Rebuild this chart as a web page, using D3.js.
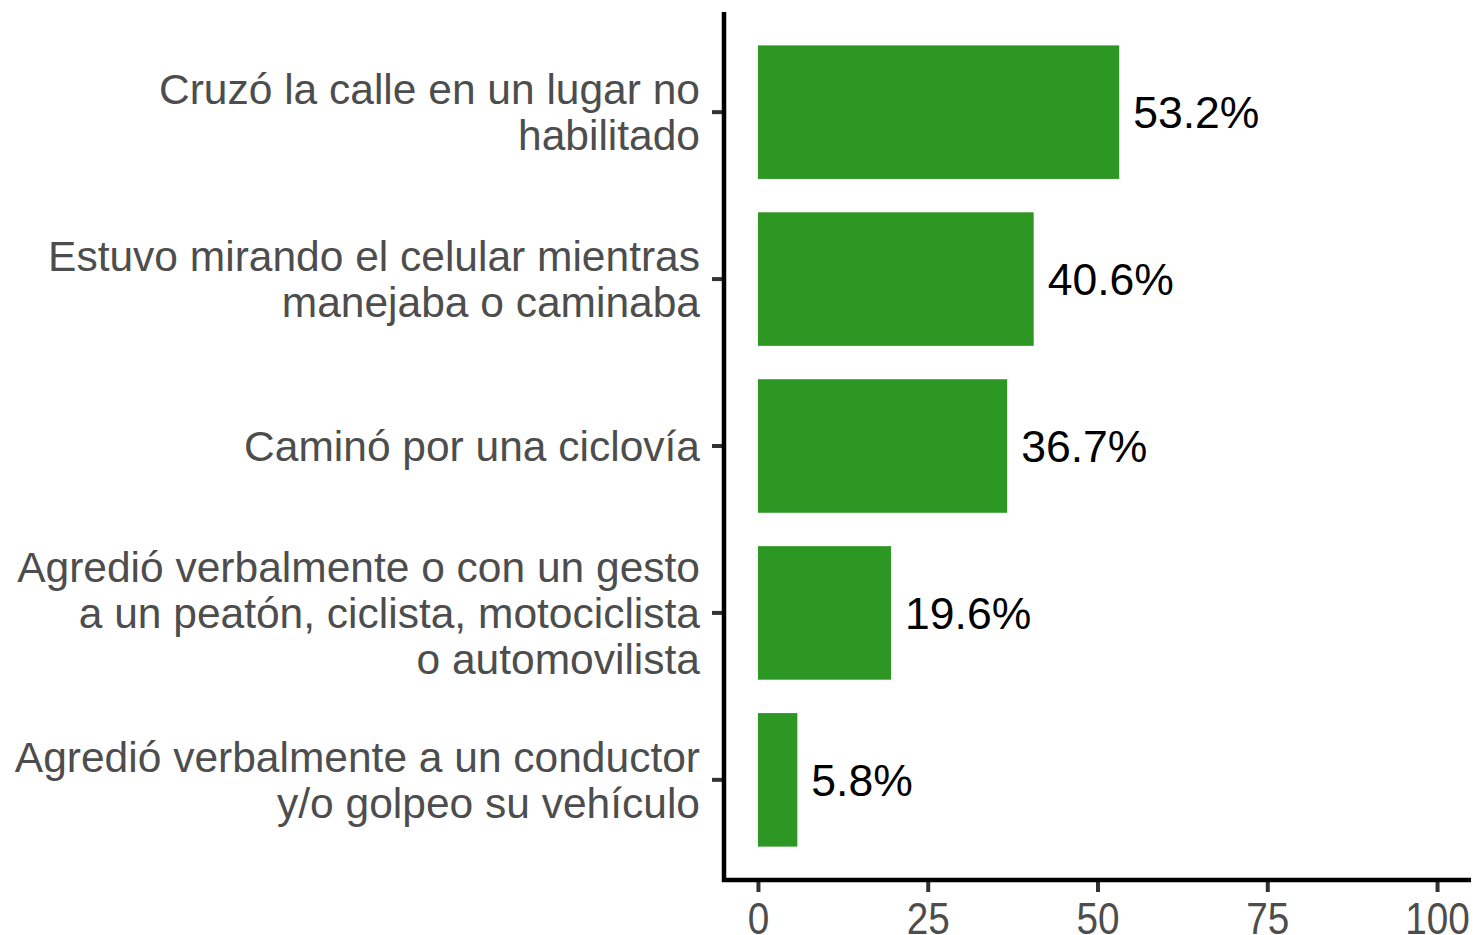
<!DOCTYPE html>
<html>
<head>
  <meta charset="utf-8">
  <title>Barras horizontales</title>
  <script src="https://cdn.jsdelivr.net/npm/d3@7"></script>
  <style>
    body { margin: 0; background: #fff; }
    svg { display: block; font-family: "Liberation Sans", Arial, sans-serif; }
  </style>
</head>
<body>
  <script>
    // tamaño de la ventana
    const w = 1476;
    const h = 935;

    // categorías (cada una partida en líneas como en el original)
    const categories = [
      ["Cruzó la calle en un lugar no", "habilitado"],
      ["Estuvo mirando el celular mientras", "manejaba o caminaba"],
      ["Caminó por una ciclovía"],
      ["Agredió verbalmente o con un gesto", "a un peatón, ciclista, motociclista", "o automovilista"],
      ["Agredió verbalmente a un conductor", "y/o golpeo su vehículo"]
    ];
    const values = [53.2, 40.6, 36.7, 19.6, 5.8];
    const xTicks = [0, 25, 50, 75, 100];

    const keys = categories.map(function (c) { return c.join(" "); });

    // área del gráfico
    const plotLeft = 724, plotRight = 1471, plotTop = 12, plotBottom = 880;

    const xScale = d3.scaleLinear()
      .domain([-5, 105])
      .range([plotLeft, plotRight]);

    const yScale = d3.scaleBand()
      .domain(keys)
      .range([plotTop, plotBottom])
      .paddingInner(0.2)
      .paddingOuter(0.2);

    const svg = d3.select("body")
      .append("svg")
      .attr("width", w)
      .attr("height", h);

    // barras
    svg.selectAll("rect.bar")
      .data(values)
      .enter()
      .append("rect")
      .attr("class", "bar")
      .attr("x", xScale(0))
      .attr("y", function (d, i) { return yScale(keys[i]); })
      .attr("width", function (d) { return xScale(d) - xScale(0); })
      .attr("height", yScale.bandwidth())
      .attr("fill", "#2c9722");

    // etiquetas de valor
    svg.selectAll("text.val")
      .data(values)
      .enter()
      .append("text")
      .attr("class", "val")
      .attr("x", function (d) { return xScale(d) + 14; })
      .attr("y", function (d, i) { return yScale(keys[i]) + yScale.bandwidth() / 2; })
      .attr("dy", "0.36em")
      .attr("font-size", 44.5)
      .attr("fill", "#000")
      .text(function (d) { return d.toFixed(1) + "%"; });

    // eje y
    const yAxis = svg.append("g")
      .attr("transform", "translate(" + plotLeft + ",0)")
      .call(d3.axisLeft(yScale).tickSize(12).tickFormat(""));
    yAxis.select(".domain").remove();
    yAxis.selectAll(".tick line").attr("stroke", "#333").attr("stroke-width", 4);

    // etiquetas de categoría
    const lineH = 46;
    const catG = svg.append("g");
    categories.forEach(function (lines, i) {
      const cy = yScale(keys[i]) + yScale.bandwidth() / 2;
      const t = catG.append("text")
        .attr("text-anchor", "end")
        .attr("font-size", 42.5)
        .attr("fill", "#4d4d4d");
      lines.forEach(function (ln, j) {
        t.append("tspan")
          .attr("x", 700)
          .attr("y", cy + (j - (lines.length - 1) / 2) * lineH)
          .attr("dy", "0.36em")
          .text(ln);
      });
    });

    // eje x (las cifras del original son algo más estrechas)
    const xAxis = svg.append("g")
      .attr("transform", "translate(0," + plotBottom + ")")
      .call(d3.axisBottom(xScale).tickValues(xTicks).tickSize(12).tickPadding(10));
    xAxis.select(".domain").remove();
    xAxis.selectAll(".tick line").attr("stroke", "#333").attr("stroke-width", 4);
    xAxis.selectAll(".tick text")
      .attr("font-size", 44)
      .attr("font-family", "Liberation Sans, Arial, sans-serif")
      .attr("fill", "#4d4d4d")
      .attr("dy", "0.72em")
      .attr("transform", "scale(0.88,1)");

    // líneas de los ejes
    svg.append("line")
      .attr("x1", plotLeft).attr("x2", plotLeft)
      .attr("y1", plotTop).attr("y2", plotBottom + 2)
      .attr("stroke", "#000").attr("stroke-width", 4.5);
    svg.append("line")
      .attr("x1", plotLeft - 2).attr("x2", plotRight)
      .attr("y1", plotBottom).attr("y2", plotBottom)
      .attr("stroke", "#000").attr("stroke-width", 4.5);
  </script>
</body>
</html>
